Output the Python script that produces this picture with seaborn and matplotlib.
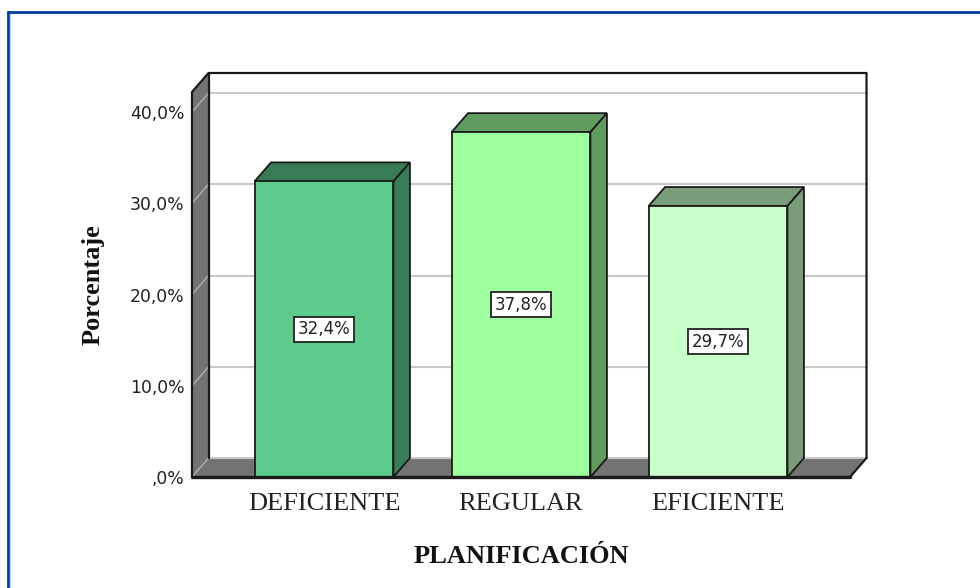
import matplotlib
matplotlib.use("Agg")
import matplotlib.pyplot as plt
import pandas as pd
import seaborn as sns
from matplotlib.lines import Line2D
from matplotlib.patches import Polygon


# --- Data ---
categories = ["DEFICIENTE", "REGULAR", "EFICIENTE"]
percentages = [32.4, 37.8, 29.7]
y_ticks = [0, 10, 20, 30, 40]
y_tick_labels = [",0%", "10,0%", "20,0%", "30,0%", "40,0%"]

front_colors = ["#5ccb8c", "#9dff9d", "#c9ffc9"]
side_colors = ["#387c55", "#609c60", "#7b9c7b"]

df = pd.DataFrame({"category": categories, "percentage": percentages})


# --- Plot styling ---
sns.set_theme(style="white")
plt.rcParams["font.family"] = ["Liberation Serif", "DejaVu Serif"]

fig = plt.figure(figsize=(9.8, 5.88), dpi=100)
W, H = 980, 588
ax = fig.add_axes([192 / W, 1 - 477 / H, 658 / W, 385 / H])

x_min, x_max = -0.67, 2.67
y_min, y_max = 0, 42.2
ax.set_xlim(x_min, x_max)
ax.set_ylim(y_min, y_max)

# depth of the fake 3D box, in data units
dx = 16.5 / 197
dy = 19 / 9.125
line_color = "#1a1a1a"


# --- Box walls ---
ax.add_patch(Polygon(
    [(x_min, y_min), (x_min + dx, y_min + dy), (x_min + dx, y_max + dy), (x_min, y_max)],
    facecolor="#737373", edgecolor="none", clip_on=False, zorder=0.6
))
ax.add_patch(Polygon(
    [(x_min, y_min), (x_max, y_min), (x_max + dx, y_min + dy), (x_min + dx, y_min + dy)],
    facecolor="#737373", edgecolor="none", clip_on=False, zorder=0.6
))

# gridlines run along the back wall and down the left wall
for t in y_ticks:
    ax.plot([x_min + dx, x_max + dx], [t + dy, t + dy], color="#c8c8c8", lw=1.5, clip_on=False, zorder=0.7)
    ax.plot([x_min, x_min + dx], [t, t + dy], color="#a8a8a8", lw=1.2, clip_on=False, zorder=0.7)

# box outline
ax.plot(
    [x_min, x_min, x_min + dx, x_max + dx, x_max + dx],
    [y_min, y_max, y_max + dy, y_max + dy, y_min + dy],
    color=line_color, lw=1.6, clip_on=False, zorder=0.8
)
ax.plot([x_min + dx, x_min + dx], [y_min + dy, y_max + dy], color=line_color, lw=1.6, clip_on=False, zorder=0.8)
ax.plot([x_max, x_max + dx], [y_min, y_min + dy], color=line_color, lw=1.6, clip_on=False, zorder=0.8)
ax.plot([x_min, x_max], [y_min, y_min], color=line_color, lw=2.4, clip_on=False, zorder=5)


# --- Plot data ---
sns.barplot(
    data=df,
    x="category",
    y="percentage",
    hue="category",
    palette=front_colors,
    saturation=1,
    legend=False,
    width=0.705,
    edgecolor=line_color,
    linewidth=1.3,
    zorder=3,
    ax=ax
)
ax.set_xlim(x_min, x_max)
ax.set_ylim(y_min, y_max)

# top and side faces of each bar, taken from the drawn bars
bars = [bar for container in ax.containers for bar in container]
for bar, side in zip(bars, side_colors):
    x0, w, h = bar.get_x(), bar.get_width(), bar.get_height()
    ax.add_patch(Polygon(
        [(x0, h), (x0 + w, h), (x0 + w + dx, h + dy), (x0 + dx, h + dy)],
        facecolor=side, edgecolor=line_color, linewidth=1.3, zorder=2.8
    ))
    ax.add_patch(Polygon(
        [(x0 + w, 0), (x0 + w + dx, dy), (x0 + w + dx, h + dy), (x0 + w, h)],
        facecolor=side, edgecolor=line_color, linewidth=1.3, zorder=2.8
    ))
    ax.text(
        x0 + w / 2, h / 2, f"{h:.1f}%".replace(".", ","),
        ha="center", va="center", fontsize=12, family="DejaVu Sans", color="#222222", zorder=6,
        bbox=dict(boxstyle="square,pad=0.2", facecolor="white", edgecolor="#222222", linewidth=1.3)
    )


# --- Axes configuration ---
sns.despine(ax=ax, left=True, bottom=True, top=True, right=True)
ax.set_yticks(y_ticks)
ax.set_yticklabels(y_tick_labels, family="DejaVu Sans", fontsize=12.4, color="#222222")
ax.set_xticks(range(len(categories)))
ax.set_xticklabels(categories, fontsize=19, color="#222222")
ax.tick_params(axis="y", length=0, pad=5.5)
ax.tick_params(axis="x", length=0, pad=11.5)
ax.set_xlabel("PLANIFICACIÓN", fontsize=19, fontweight="bold", color="#111111", labelpad=21.5)
ax.set_ylabel("Porcentaje", fontsize=19, fontweight="bold", color="#111111", labelpad=18)


# --- Blue frame around the picture ---
frame = dict(transform=None, solid_capstyle="butt")
fig.add_artist(Line2D([8, 8], [0, H - 10.5], color="#003b9e", lw=2, **frame))
fig.add_artist(Line2D([10, 10], [0, H - 13], color="#b9cdf2", lw=1, **frame))
fig.add_artist(Line2D([7, W], [H - 12, H - 12], color="#003b9e", lw=2, **frame))


# --- Render ---
fig.savefig("out.png", dpi=100)
